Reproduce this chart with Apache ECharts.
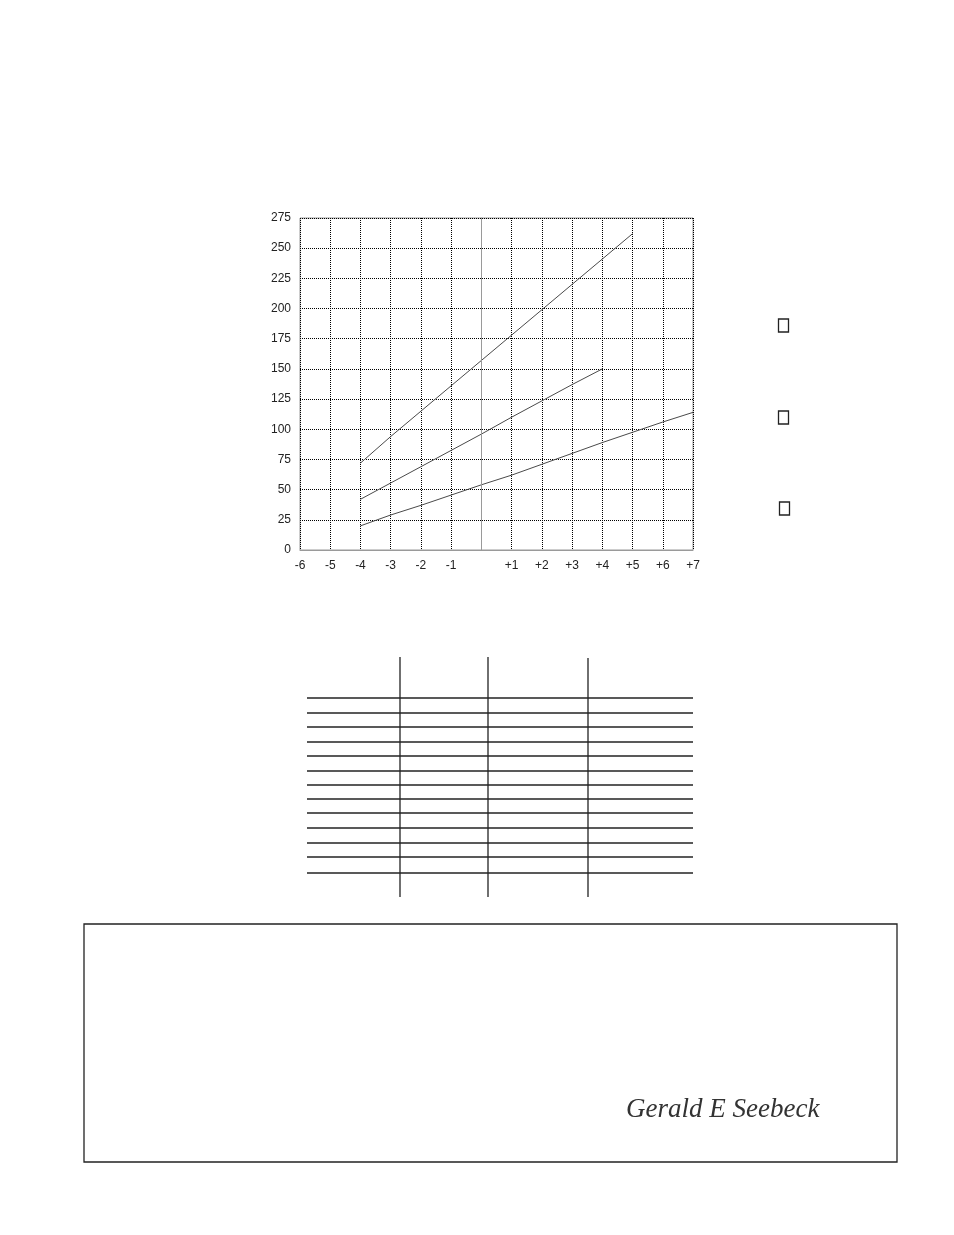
<!DOCTYPE html>
<html>
<head>
<meta charset="utf-8">
<script src="https://cdn.jsdelivr.net/npm/echarts@6/dist/echarts.min.js"></script>
<style>
  html, body { margin: 0; padding: 0; background: #fff; }
  #main { width: 954px; height: 1235px; }
</style>
</head>
<body>
<div id="main"></div>
<script>
// x positions and the three curves
var xTicks = [-6, -5, -4, -3, -2, -1, 0, 1, 2, 3, 4, 5, 6, 7]
var yTicks = [0, 25, 50, 75, 100, 125, 150, 175, 200, 225, 250, 275]

var topX = [-4, -3, -2, -1, 0, 1, 2, 3, 4, 5]
var topY = [72, 94, 115, 136, 157, 178, 199, 220, 241, 262]

var midX = [-4, -3, -2, -1, 0, 1, 2, 3, 4]
var midY = [42, 55.5, 69, 82.5, 96, 110, 123.5, 137, 150]

var lowX = [-4, -3, -2, -1, 0, 1, 2, 3, 4, 5, 6, 7]
var lowY = [20, 29, 37, 45.5, 54, 62, 71, 80, 89, 97.5, 106, 114]

// empty table under the chart
var tableRows = [698, 713, 727, 742, 756, 771, 785, 799, 813, 828, 843, 857, 873]
var tableCols = [400, 488, 588]

function pairs (xs, ys) {
  return xs.map(function (x, i) { return [x, ys[i]] })
}

var myChart = echarts.init(document.getElementById('main'))

var lineStyle = { color: '#4a4a4a', width: 1 }
var ink = '#222'

var graphics = []
tableRows.forEach(function (y) {
  graphics.push({ type: 'line', shape: { x1: 307, y1: y, x2: 693, y2: y }, style: { stroke: ink, lineWidth: 1.3 } })
})
tableCols.forEach(function (x, i) {
  graphics.push({ type: 'line', shape: { x1: x, y1: i === 2 ? 658 : 657, x2: x, y2: 897 }, style: { stroke: ink, lineWidth: 1.3 } })
})
// little boxes on the right
;[319, 411, 502].forEach(function (y, i) {
  graphics.push({ type: 'rect', shape: { x: i === 2 ? 779.5 : 778.5, y: y, width: 10, height: 13 }, style: { fill: 'none', stroke: ink, lineWidth: 1.3 } })
})
// bottom box + signature
graphics.push({ type: 'rect', shape: { x: 84, y: 924, width: 813, height: 238 }, style: { fill: 'none', stroke: ink, lineWidth: 1.3 } })
graphics.push({
  type: 'text', x: 626, y: 1096,
  style: { text: 'Gerald E Seebeck', font: 'italic 27px "Liberation Serif"', fill: '#333' }
})

var option = {
  animation: false,
  backgroundColor: '#fff',
  textStyle: { fontFamily: 'Liberation Sans, Arial, sans-serif' },
  grid: {
    left: 300, right: 261, top: 218, bottom: 685,
    show: true, borderColor: '#9a9a9a', borderWidth: 1
  },
  xAxis: {
    type: 'value', min: xTicks[0], max: xTicks[xTicks.length - 1], interval: 1,
    axisLine: { lineStyle: { color: '#9a9a9a' } },
    axisTick: { show: false },
    splitLine: { show: true, lineStyle: { type: 'dotted', color: '#000', width: 1 } },
    axisLabel: {
      color: ink, fontSize: 12, margin: 10,
      formatter: function (v) { return v === 0 ? '' : (v > 0 ? '+' + v : '' + v) }
    }
  },
  yAxis: {
    type: 'value', min: yTicks[0], max: yTicks[yTicks.length - 1], interval: 25,
    axisLine: { show: true, lineStyle: { color: '#9a9a9a' } },
    axisTick: { show: false },
    splitLine: { show: true, lineStyle: { type: 'dotted', color: '#000', width: 1 } },
    axisLabel: { color: ink, fontSize: 12, margin: 9 }
  },
  series: [
    {
      type: 'line', data: pairs(topX, topY), showSymbol: false, lineStyle: lineStyle,
      markLine: {
        silent: true, symbol: 'none', label: { show: false },
        lineStyle: { color: '#9a9a9a', type: 'solid', width: 1 },
        data: [{ xAxis: 0 }]
      }
    },
    { type: 'line', data: pairs(midX, midY), showSymbol: false, lineStyle: lineStyle },
    { type: 'line', data: pairs(lowX, lowY), showSymbol: false, lineStyle: lineStyle }
  ],
  graphic: graphics
}

myChart.setOption(option)
</script>
</body>
</html>
